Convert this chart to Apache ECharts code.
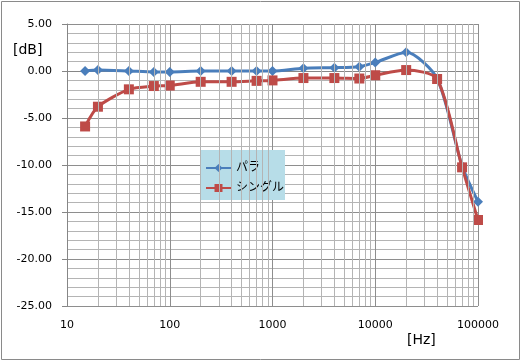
<!DOCTYPE html>
<html>
<head>
<meta charset="utf-8">
<script src="https://cdn.jsdelivr.net/npm/echarts@6/dist/echarts.min.js"></script>
<style>
html,body{margin:0;padding:0;background:#fff;}
#c{width:522px;height:362px;}
</style>
</head>
<body>
<div id="c"></div>
<script>
var freq = [15, 20, 40, 70, 100, 200, 400, 700, 1000, 2000, 4000, 7000, 10000, 20000, 40000, 70000, 100000];
var para = [0.0, 0.1, 0.0, -0.1, -0.1, 0.0, 0.0, 0.0, 0.0, 0.3, 0.35, 0.45, 0.9, 2.0, -0.8, -10.1, -13.9];
var single = [-5.9, -3.8, -1.95, -1.6, -1.55, -1.15, -1.15, -1.05, -1.0, -0.75, -0.75, -0.8, -0.45, 0.1, -0.85, -10.25, -15.85];
var seriesNames = ['パラ', 'シングル'];
var minorGridX = [20,30,40,50,60,70,80,90,200,300,400,500,600,700,800,900,2000,3000,4000,5000,6000,7000,8000,9000,20000,30000,40000,50000,60000,70000,80000,90000];

var FONT = 'DejaVu Sans, "Noto Sans CJK JP", sans-serif';
var chart = echarts.init(document.getElementById('c'), null, {renderer: 'canvas'});

function pairs(xs, ys) { return xs.map(function (x, i) { return [x, ys[i]]; }); }

chart.setOption({
  animation: false,
  backgroundColor: '#ffffff',
  grid: { left: 67, right: 44, top: 24, bottom: 56, containLabel: false, outerBoundsMode: 'none' },
  xAxis: {
    type: 'log', logBase: 10, min: 10, max: 100000,
    axisLine: { show: true, lineStyle: { color: '#868686', width: 1 } },
    axisTick: { show: true, length: 5, lineStyle: { color: '#868686' } },
    axisLabel: { color: '#000', fontSize: 11, fontFamily: FONT, margin: 14,
      formatter: function (v) { return String(Math.round(v)); } },
    splitLine: { show: true, lineStyle: { color: '#8e8e8e', width: 1 } },
    minorTick: { show: false }, minorSplitLine: { show: false }
  },
  yAxis: {
    type: 'value', min: -25, max: 5, interval: 5,
    axisLine: { show: true, lineStyle: { color: '#868686', width: 1 } },
    axisTick: { show: true, length: 5, lineStyle: { color: '#868686' } },
    axisLabel: { color: '#000', fontSize: 11, fontFamily: FONT, margin: 15,
      formatter: function (v) { return v.toFixed(2); } },
    splitLine: { show: true, lineStyle: { color: '#8e8e8e', width: 1 } },
    minorTick: { show: false, splitNumber: 5 },
    minorSplitLine: { show: true, lineStyle: { color: '#b4b4b4', width: 1 } }
  },
  legend: {
    data: seriesNames,
    orient: 'vertical', left: 201, top: 150,
    backgroundColor: '#b7dde8',
    padding: [12, 1, 6, 4],
    itemWidth: 25, itemHeight: 10, itemGap: 8,
    textStyle: { color: '#000', fontSize: 12, fontFamily: FONT }
  },
  graphic: [
    { type: 'rect', shape: { x: 1.5, y: 1.5, width: 518, height: 358 }, style: { fill: 'none', stroke: '#8a8a8a', lineWidth: 1 }, z: 100 },
    { type: 'text', left: 13, top: 43, style: { text: '[dB]', fill: '#000', font: '14px ' + FONT } },
    { type: 'text', left: 407, top: 333, style: { text: '[Hz]', fill: '#000', font: '14px ' + FONT } }
  ],
  series: [
    {
      name: 'gridminor', type: 'line', data: [], silent: true, z: 0,
      markLine: {
        silent: true, symbol: 'none', animation: false,
        label: { show: false },
        lineStyle: { color: '#b4b4b4', width: 1, type: 'solid' },
        data: minorGridX.map(function (v) { return { xAxis: v }; })
      }
    },
    {
      name: seriesNames[0], type: 'line', smooth: 0.25,
      data: pairs(freq, para),
      symbol: 'diamond', symbolSize: 10,
      itemStyle: { color: '#4a7ebb' },
      lineStyle: { color: '#4a7ebb', width: 3 },
      z: 3
    },
    {
      name: seriesNames[1], type: 'line', smooth: 0.25,
      data: pairs(freq, single),
      symbol: 'rect', symbolSize: 10,
      itemStyle: { color: '#be4b48' },
      lineStyle: { color: '#be4b48', width: 3 },
      z: 4
    }
  ]
});
</script>
</body>
</html>
